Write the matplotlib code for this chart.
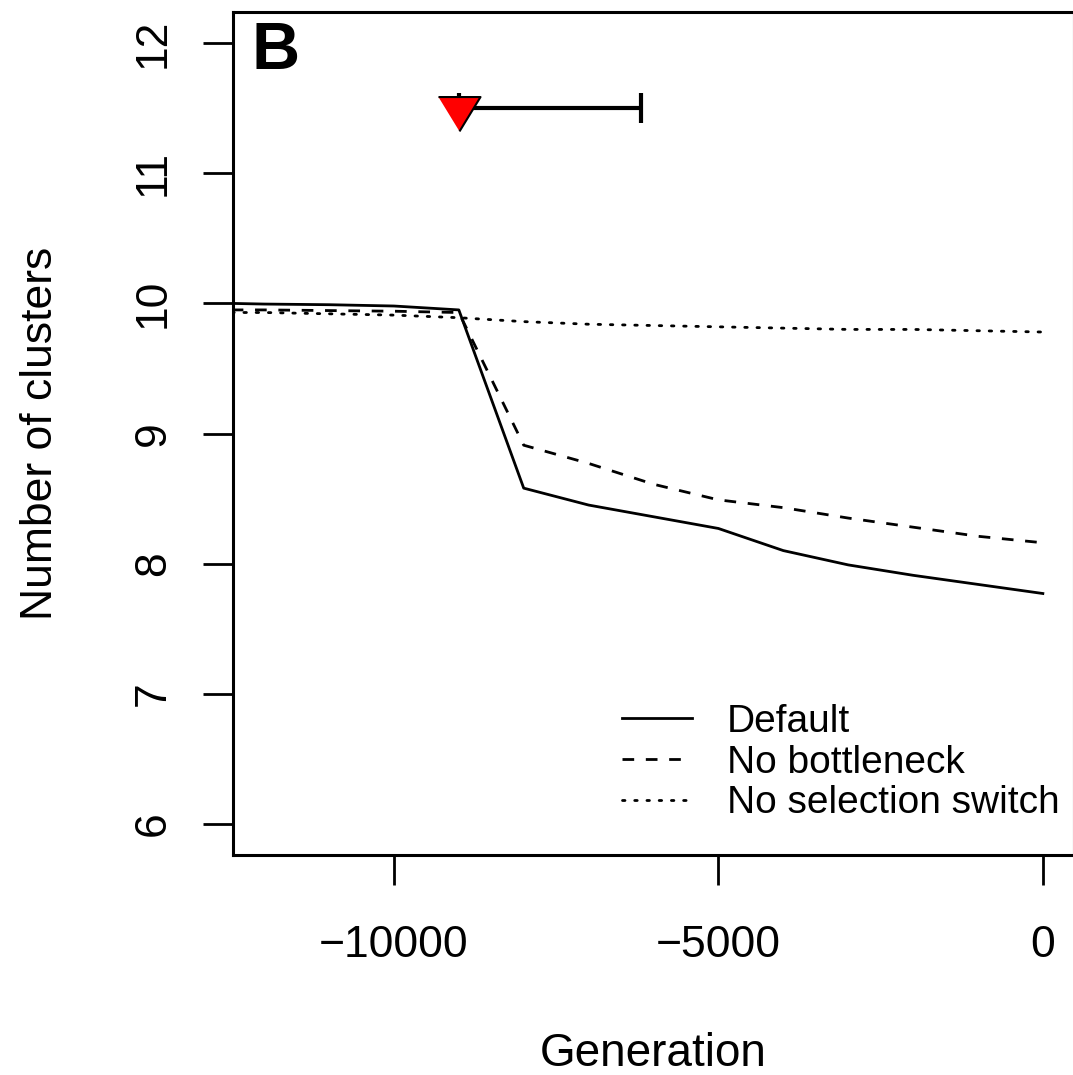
"""
Number of clusters over generations, panel B.
"""

import matplotlib
matplotlib.use('Agg')
import matplotlib.pyplot as plt

plt.rcParams['font.family'] = ['Liberation Sans', 'DejaVu Sans']

# generations sampled (before present)
generation = [-12500, -12000, -11000, -10000, -9000, -8000, -7000,
              -6000, -5000, -4000, -3000, -2000, -1000, 0]
# mean number of clusters per scenario
default_run = [10.00, 9.995, 9.99, 9.98, 9.95, 8.58, 8.45,
               8.36, 8.27, 8.10, 7.99, 7.91, 7.84, 7.77]
no_bottleneck = [9.95, 9.95, 9.945, 9.94, 9.93, 8.91, 8.77,
                 8.61, 8.49, 8.43, 8.35, 8.28, 8.21, 8.16]
no_selection_switch = [9.93, 9.93, 9.92, 9.91, 9.89, 9.86, 9.84,
                       9.83, 9.82, 9.81, 9.80, 9.80, 9.79, 9.78]

# timing of the switch and its interval
switch_gen = -9000
switch_upper = -6200
switch_y = 11.5

xticks = [-10000, -5000, 0]
xtick_labels = ['\u221210000', '\u22125000', '0']
yticks = [6, 7, 8, 9, 10, 11, 12]

W, H = 1073, 1075
fig = plt.figure(figsize=(W / 100, H / 100), dpi=100)
ax = fig.add_axes([233 / W, 1 - 855 / H, (1074 - 233) / W, (855 - 12) / H])

lw = 2.0
ax.plot(generation, default_run, color='black', linewidth=lw, label='Default')
ax.plot(generation, no_bottleneck, color='black', linewidth=lw,
        dashes=(4.2, 4.2), label='No bottleneck')
ax.plot(generation, no_selection_switch, color='black', linewidth=lw,
        dashes=(0.9, 3.5), dash_capstyle='round', label='No selection switch')

# switch interval + marker
ax.errorbar([switch_gen], [switch_y], xerr=[[0], [switch_upper - switch_gen]],
            color='black', elinewidth=3.0, capsize=11, capthick=3.0, fmt='none')
tri = [(-22, 12), (22, 12), (0, -24)]
ax.plot([switch_gen], [switch_y], linestyle='none', marker=tri, markersize=33,
        markerfacecolor='red', markeredgecolor='black', markeredgewidth=1.5, zorder=5)

ax.set_xlim(-12480, 480)
ax.set_ylim(5.76, 12.24)

ax.set_xticks(xticks)
ax.set_xticklabels(xtick_labels)
ax.set_yticks(yticks)
ax.set_yticklabels([str(v) for v in yticks], rotation=90, va='center')
ax.tick_params(axis='both', direction='out', length=21.6, width=2.0, labelsize=32)
ax.tick_params(axis='x', pad=29)
ax.tick_params(axis='y', pad=21)
for s in ax.spines.values():
    s.set_linewidth(2.2)

fig.text(653 / W, 1 - 1066 / H, 'Generation', fontsize=33, ha='center', va='baseline')
fig.text(52 / W, 1 - 433 / H, 'Number of clusters', fontsize=32, rotation=90,
         rotation_mode='anchor', ha='center', va='baseline')
fig.text(251 / W, 1 - 69 / H, 'B', fontsize=48, fontweight='bold', ha='left', va='baseline')

ax.legend(loc='upper left', bbox_to_anchor=(622 / W, 1 - 704 / H),
          bbox_transform=fig.transFigure, frameon=False, fontsize=28,
          handlelength=1.8, handletextpad=0.9, labelspacing=0.12,
          borderpad=0, borderaxespad=0)

fig.savefig('out.png', dpi=100)
